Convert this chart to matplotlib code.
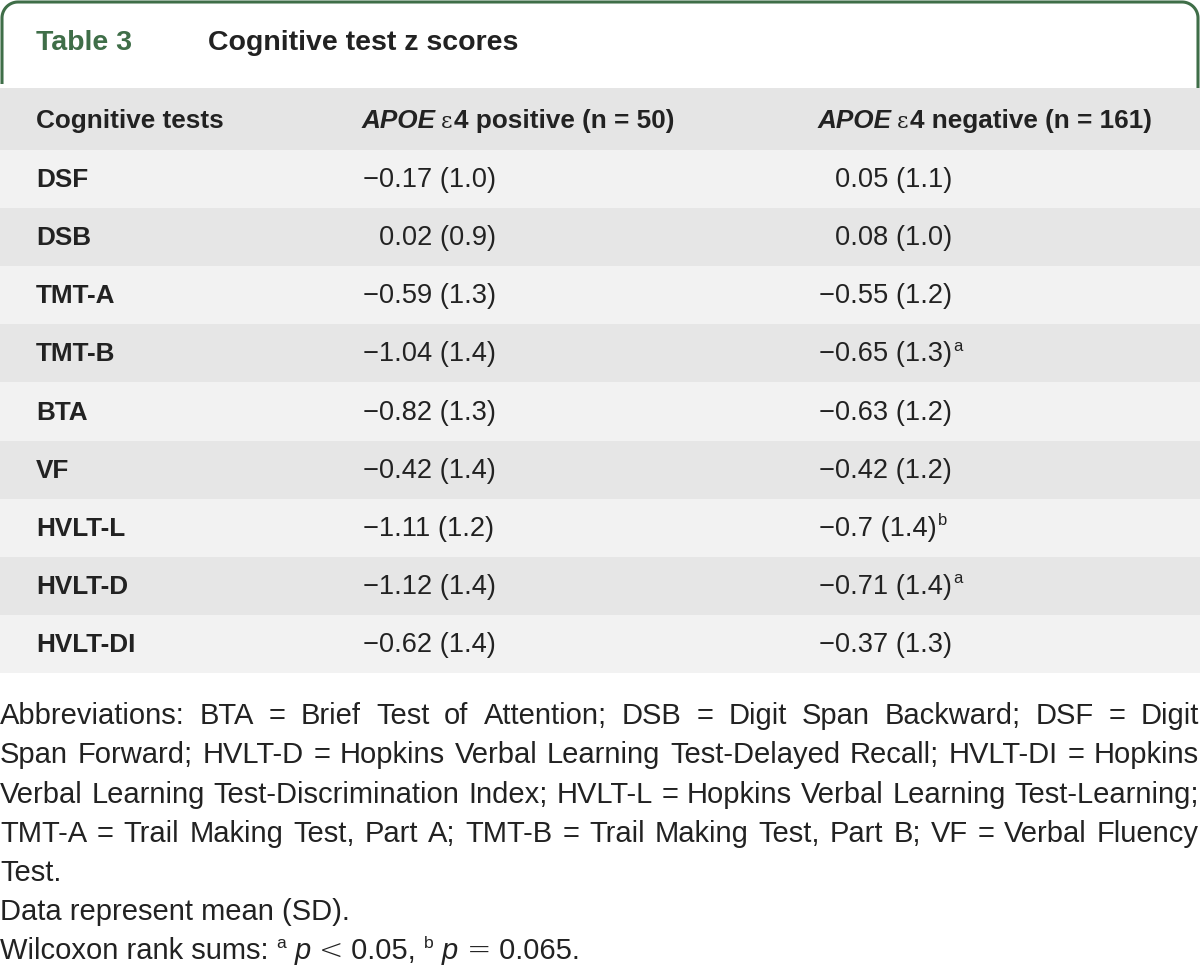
import matplotlib
matplotlib.use("Agg")
import matplotlib.pyplot as plt
from matplotlib.path import Path
from matplotlib.patches import PathPatch, Rectangle
import numpy as np

# ---------------- data ----------------
title_label = "Table 3"
title_text = "Cognitive test z scores"
col_headers = ["Cognitive tests", "APOE", "APOE"]
group_names = ["\u03b54 positive (n = 50)", "\u03b54 negative (n = 161)"]
tests = ["DSF", "DSB", "TMT-A", "TMT-B", "BTA", "VF", "HVLT-L", "HVLT-D", "HVLT-DI"]
pos_mean = ["\u22120.17", "0.02", "\u22120.59", "\u22121.04", "\u22120.82", "\u22120.42", "\u22121.11", "\u22121.12", "\u22120.62"]
pos_sd = ["1.0", "0.9", "1.3", "1.4", "1.3", "1.4", "1.2", "1.4", "1.4"]
neg_mean = ["0.05", "0.08", "\u22120.55", "\u22120.65", "\u22120.63", "\u22120.42", "\u22120.7", "\u22120.71", "\u22120.37"]
neg_sd = ["1.1", "1.0", "1.2", "1.3", "1.2", "1.2", "1.4", "1.4", "1.3"]
neg_sup = ["", "", "", "a", "", "", "b", "a", ""]
foot_lines = [
    "Abbreviations: BTA = Brief Test of Attention; DSB = Digit Span Backward; DSF = Digit",
    "Span Forward; HVLT-D = Hopkins Verbal Learning Test-Delayed Recall; HVLT-DI = Hopkins",
    "Verbal Learning Test-Discrimination Index; HVLT-L = Hopkins Verbal Learning Test-Learning;",
    "TMT-A = Trail Making Test, Part A; TMT-B = Trail Making Test, Part B; VF = Verbal Fluency",
    "Test.",
    "Data represent mean (SD).",
]
foot_justify = [True, True, True, True, False, False]
foot_last = [("Wilcoxon rank sums: ", "n"), ("a", "s"), (" ", "n"), ("p", "i"),
             (" ", "n"), ("<", "m"), (" 0.05, ", "n"), ("b", "s"), (" ", "n"), ("p", "i"),
             (" ", "n"), ("=", "m"), (" 0.065.", "n")]

# ---------------- style ----------------
W, H = 1200, 966
GREEN = "#3f6e48"
DARK = "#222222"
ROW_LIGHT = "#f2f2f2"
ROW_DARK = "#e6e6e6"
HEAD_BG = "#e5e5e5"
FONT = ["Liberation Sans", "DejaVu Sans"]
plt.rcParams["font.family"] = FONT

fig = plt.figure(figsize=(W / 100, H / 100), dpi=100)
ax = fig.add_axes([0, 0, 1, 1])
ax.set_xlim(0, W)
ax.set_ylim(H, 0)
ax.axis("off")
fig.canvas.draw()
renderer = fig.canvas.get_renderer()


def width_px(t):
    return t.get_window_extent(renderer=renderer).width


# frame (open at the bottom, rounded top corners)
r = 16
x0, x1, yt = 2, 1198, 2
ybl, ybr = 84, 94
th = np.linspace(np.pi, 1.5 * np.pi, 20)
left_arc = np.c_[x0 + r + r * np.cos(th), yt + r + r * np.sin(th)]
th2 = np.linspace(1.5 * np.pi, 2 * np.pi, 20)
right_arc = np.c_[x1 - r + r * np.cos(th2), yt + r + r * np.sin(th2)]
verts = np.vstack([[[x0, ybl]], left_arc, right_arc, [[x1, ybr]]])
ax.add_patch(PathPatch(Path(verts), fill=False, edgecolor=GREEN, lw=2.2, capstyle="butt"))

# title
TS = 20.5
ax.text(36, 43, title_label, fontsize=TS, fontweight="bold", color=GREEN, va="center", ha="left")
ax.text(208, 43, title_text, fontsize=TS, fontweight="bold", color=DARK, va="center", ha="left")

# backgrounds
head_top, head_bot = 88, 150
ax.add_patch(Rectangle((0, head_top), W, head_bot - head_top, facecolor=HEAD_BG, edgecolor="none"))
row_h = (673 - head_bot) / len(tests)
for i in range(len(tests)):
    ax.add_patch(Rectangle((0, head_bot + i * row_h), W, row_h,
                           facecolor=ROW_LIGHT if i % 2 == 0 else ROW_DARK, edgecolor="none"))

BS = 18.8   # bold label size
VS = 19.6   # value size
col_x = [36, 362, 818]
hy = (head_top + head_bot) / 2 + 2
ax.text(col_x[0], hy, col_headers[0], fontsize=BS, fontweight="bold", color=DARK, va="center")
for j in (1, 2):
    t = ax.text(col_x[j], hy, col_headers[j], fontsize=BS, fontweight="bold", style="italic",
                color=DARK, va="center")
    x = col_x[j] + width_px(t) + 5
    t2 = ax.text(x, hy + 1, group_names[j - 1][0], fontsize=BS - 3, family="DejaVu Serif",
                 color=DARK, va="center")
    x += width_px(t2) + 1
    ax.text(x, hy, group_names[j - 1][1:], fontsize=BS, fontweight="bold", color=DARK, va="center")

# minus width for decimal alignment
tm = ax.text(0, -100, "\u2212", fontsize=VS)
minus_w = width_px(tm)
tm.remove()

for i, name in enumerate(tests):
    y = head_bot + (i + 0.5) * row_h + 1
    ax.text(col_x[0], y, name, fontsize=BS, fontweight="bold", color=DARK, va="center")
    for j, (m, s, sup) in enumerate([(pos_mean[i], pos_sd[i], ""), (neg_mean[i], neg_sd[i], neg_sup[i])]):
        x = col_x[j + 1] + 1
        if not m.startswith("\u2212"):
            x += minus_w
        t = ax.text(x, y, f"{m} ({s})", fontsize=VS, color=DARK, va="center")
        if sup:
            ax.text(x + width_px(t) + 1, y - 8, sup, fontsize=12, color=DARK, va="center")

# footnotes: font size fitted so the justified lines fill the width
probe = [ax.text(0, -100, ln, fontsize=10) for ln, j in zip(foot_lines, foot_justify) if j]
FS = 10 * (W - 4) / max(width_px(p) for p in probe)
for p in probe:
    p.remove()

foot_y0, foot_dy = 716, 39.3
for k, (line, just) in enumerate(zip(foot_lines, foot_justify)):
    y = foot_y0 + k * foot_dy
    if not just:
        ax.text(0, y, line, fontsize=FS, color=DARK, va="center")
        continue
    words = line.split(" ")
    ts = [ax.text(0, y, w_, fontsize=FS, color=DARK, va="center") for w_ in words]
    ws = [width_px(t) for t in ts]
    gap = (W - 1 - sum(ws)) / (len(words) - 1)
    x = 0
    for t, w_ in zip(ts, ws):
        t.set_x(x)
        x += w_ + gap

y = foot_y0 + len(foot_lines) * foot_dy - 1
x = 0
for txt, kind in foot_last:
    if kind == "s":
        t = ax.text(x, y - 7, txt, fontsize=FS * 0.6, color=DARK, va="center")
    elif kind == "i":
        t = ax.text(x, y, txt, fontsize=FS, style="italic", color=DARK, va="center")
    elif kind == "m":
        t = ax.text(x, y, txt, fontsize=FS, family="DejaVu Sans", fontweight="light",
                    color=DARK, va="center")
    else:
        t = ax.text(x, y, txt, fontsize=FS, color=DARK, va="center")
    x += width_px(t)

fig.savefig("out.png", dpi=100)
